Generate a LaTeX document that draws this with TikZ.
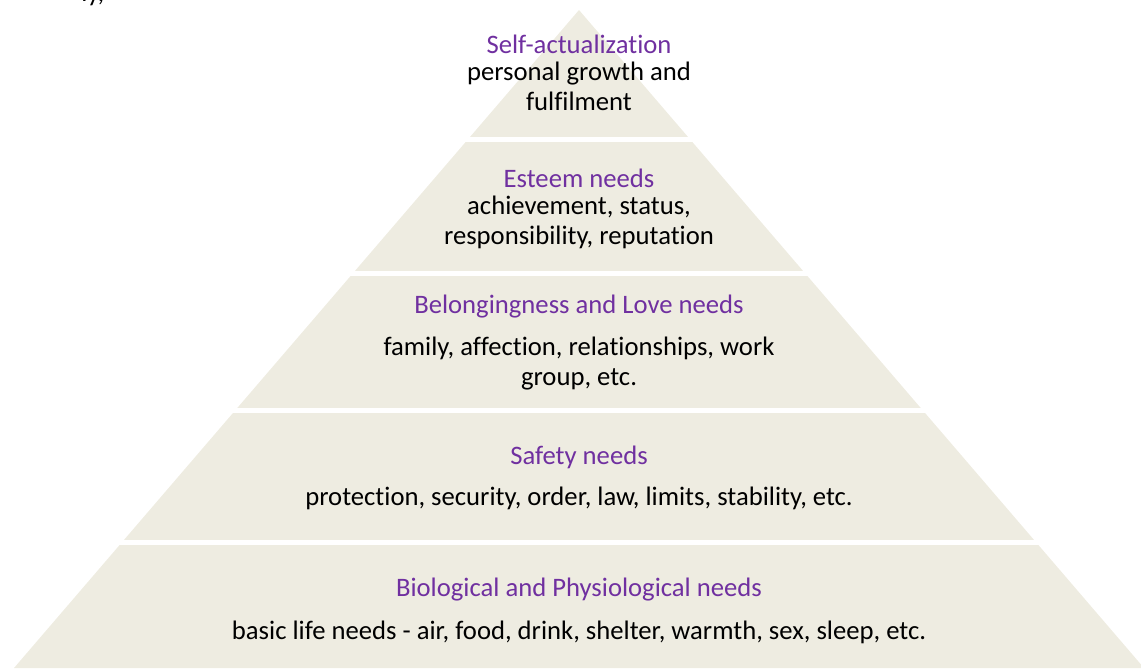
\documentclass[tikz,border=0pt]{standalone}
\usepackage{fontspec}
\setmainfont{Carlito}[Ligatures={NoCommon,NoContextual}]
\usepackage{tikz}
\definecolor{tierbg}{HTML}{EEECE1}
\definecolor{headc}{HTML}{7030A0}
\tikzset{
  hd/.style={text=headc,font=\fontsize{20}{22.5}\selectfont,inner sep=0pt},
  bd/.style={align=center,font=\fontsize{20}{22.5}\selectfont,inner sep=0pt}
}
\begin{document}
\begin{tikzpicture}[x=0.75pt,y=-0.75pt]
\useasboundingbox (0,0) rectangle (1141,668);
\clip (0,0) rectangle (1141,668);
% pyramid, cut into five tiers by white bands
\fill[tierbg] (579,10) -- (14,668) -- (1144,668) -- cycle;
\foreach \g in {137,271,408,540}{\fill[white] (0,\g) rectangle (1141,\g+5);}
% tail of the line above
\node[bd,anchor=base west] (cut) at (81,1) {ly,};
% tiers, top to bottom
\node[hd] (saH) at (579,44) {Self-actualization};
\node[bd] (saB) at (579,86) {personal growth and\\fulfilment};
\node[hd] (esH) at (579,178) {Esteem needs};
\node[bd] (esB) at (579,222.5) {achievement, status,\\responsibility, reputation};
\node[hd] (blH) at (579,307) {Belongingness and Love needs};
\node[bd] (blB) at (579,364) {family, affection, relationships, work\\group, etc.};
\node[hd] (sfH) at (579,457) {Safety needs};
\node[bd] (sfB) at (579,498) {protection, security, order, law, limits, stability, etc.};
\node[hd] (bpH) at (579,590) {Biological and Physiological needs};
\node[bd] (bpB) at (579,632) {basic life needs - air, food, drink, shelter, warmth, sex, sleep, etc.};
\end{tikzpicture}
\end{document}
